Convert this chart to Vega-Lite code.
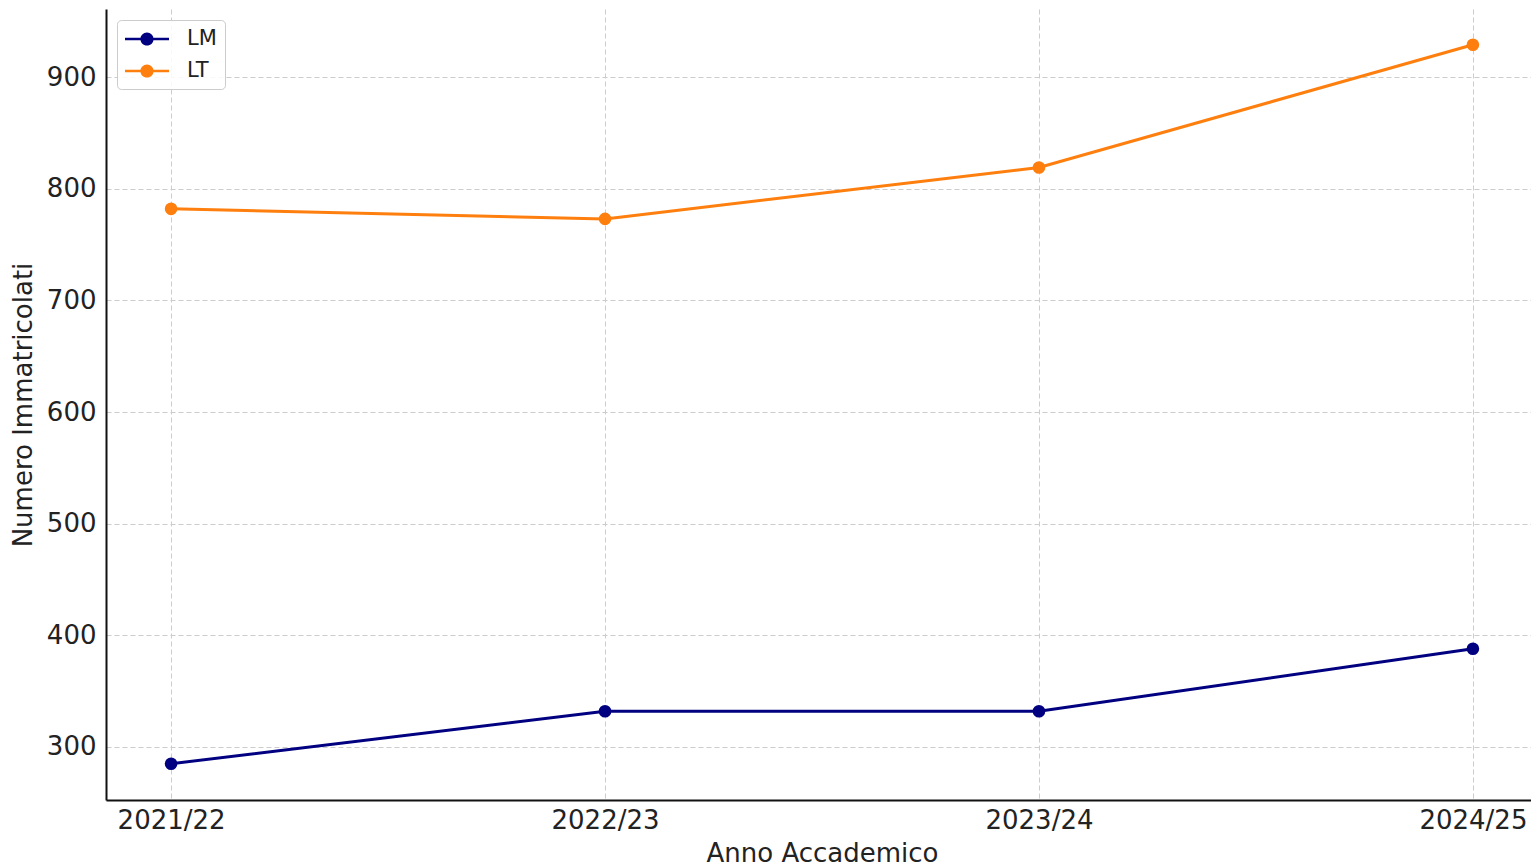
{
  "$schema": "https://vega.github.io/schema/vega-lite/v6.json",
  "width": 1432,
  "height": 791,
  "autosize": "none",
  "padding": {"left": 106, "top": 9, "right": 0, "bottom": 67},
  "background": "white",
  "config": {
    "view": {"stroke": null},
    "font": "DejaVu Sans",
    "axis": {
      "domainColor": "#111111",
      "domainWidth": 2,
      "ticks": false,
      "labelFont": "DejaVu Sans",
      "labelFontSize": 26,
      "labelColor": "#222222",
      "titleFont": "DejaVu Sans",
      "titleFontSize": 26,
      "titleFontWeight": "normal",
      "titleColor": "#222222",
      "grid": true,
      "gridColor": "#cccccc",
      "gridDash": [5, 3],
      "gridWidth": 1
    }
  },
  "data": {
    "values": [
      {"anno": "2021/22", "tipo": "LM", "immatricolati": 285},
      {"anno": "2022/23", "tipo": "LM", "immatricolati": 332},
      {"anno": "2023/24", "tipo": "LM", "immatricolati": 332},
      {"anno": "2024/25", "tipo": "LM", "immatricolati": 388},
      {"anno": "2021/22", "tipo": "LT", "immatricolati": 782},
      {"anno": "2022/23", "tipo": "LT", "immatricolati": 773},
      {"anno": "2023/24", "tipo": "LT", "immatricolati": 819},
      {"anno": "2024/25", "tipo": "LT", "immatricolati": 929}
    ]
  },
  "encoding": {
    "x": {
      "field": "anno",
      "type": "ordinal",
      "sort": null,
      "scale": {"type": "point", "padding": 0.15},
      "axis": {
        "title": "Anno Accademico",
        "labelAngle": 0,
        "labelPadding": 7,
        "labelFlush": false,
        "labelOverlap": false,
        "titlePadding": 7
      }
    },
    "y": {
      "field": "immatricolati",
      "type": "quantitative",
      "scale": {"domain": [252.5, 961], "nice": false, "zero": false},
      "axis": {
        "title": "Numero Immatricolati",
        "values": [300, 400, 500, 600, 700, 800, 900],
        "labelPadding": 10,
        "titlePadding": 10
      }
    },
    "color": {
      "field": "tipo",
      "type": "nominal",
      "scale": {"domain": ["LM", "LT"], "range": ["#000080", "#ff7f0e"]},
      "legend": {
        "title": null,
        "orient": "top-left",
        "offset": 11,
        "padding": 8,
        "fillColor": "rgba(255,255,255,0.85)",
        "strokeColor": "#cccccc",
        "cornerRadius": 4,
        "labelFontSize": 21,
        "labelColor": "#222222",
        "labelFont": "DejaVu Sans",
        "symbolType": "M-2,-0.12H2V0.12H-2Z M-0.6,0A0.6,0.6 0 1,1 0.6,0A0.6,0.6 0 1,1 -0.6,0Z",
        "symbolSize": 484,
        "symbolStrokeWidth": 0,
        "symbolOffset": 11,
        "labelOffset": 29,
        "rowPadding": 11,
        "encode": {
          "symbols": {
            "update": {
              "fill": {"scale": "color", "field": "value"},
              "stroke": {"scale": "color", "field": "value"},
              "opacity": {"value": 1}
            }
          }
        }
      }
    }
  },
  "layer": [
    {"mark": {"type": "line", "strokeWidth": 3}},
    {"mark": {"type": "point", "filled": true, "size": 160, "opacity": 1}}
  ]
}
